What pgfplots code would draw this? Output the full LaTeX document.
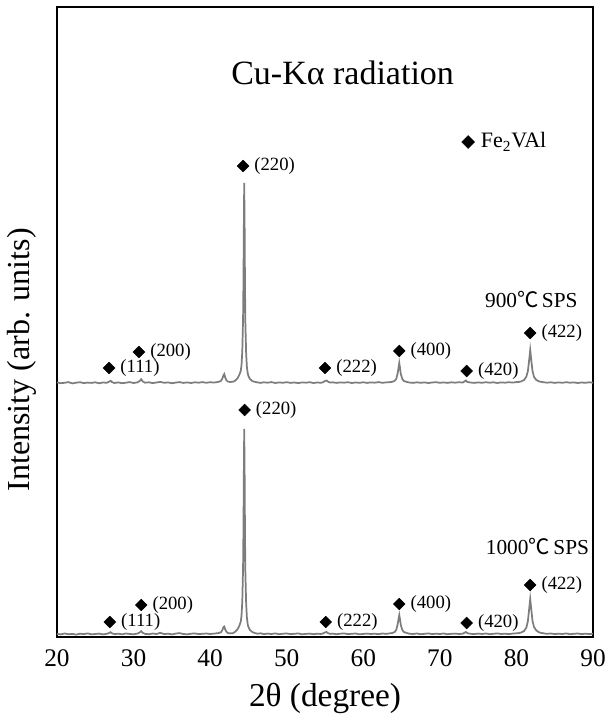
\documentclass[border=0pt]{standalone}
\usepackage{fontspec}
\setmainfont{Liberation Serif}
\newfontfamily\cjk{Noto Sans CJK SC}
\usepackage{pgfplots}
\usepackage{pgfplotstable}
\pgfplotsset{compat=1.18}
\pgfplotstableread{
x up lo
20.0 254.5 3.2
20.5 253.8 2.6
21.0 254.2 3.5
21.5 254.9 2.8
22.0 253.6 3.1
22.5 254.3 2.4
23.0 254.8 3.3
23.5 253.9 2.9
24.0 254.4 3.6
24.5 254.1 2.7
25.0 254.7 3.0
25.5 253.7 3.4
26.0 254.5 2.6
26.5 254.2 3.2
26.8 255.3 4.0
27.0 256.2 4.8
27.2 254.8 3.6
27.5 254.0 2.9
28.0 254.6 3.3
28.5 253.8 2.7
29.0 254.3 3.5
29.5 254.9 3.0
30.0 254.0 2.8
30.5 254.6 3.4
30.8 256.0 4.5
31.0 257.8 5.8
31.2 255.5 4.2
31.5 254.3 3.1
32.0 254.7 2.8
32.5 253.9 3.5
33.0 254.5 3.0
33.5 255.1 4.2
34.0 254.2 2.9
34.5 254.6 3.3
35.0 253.8 2.6
35.5 254.4 3.4
36.0 254.9 3.9
36.5 254.1 3.0
37.0 254.6 2.7
37.5 254.0 3.3
38.0 254.7 3.6
38.5 254.3 2.9
39.0 254.9 3.2
39.5 254.2 3.5
40.0 254.8 3.0
40.5 254.4 3.4
41.0 255.0 3.8
41.4 256.0 4.6
41.6 258.5 7.0
41.75 262.0 10.0
41.85 263.0 10.5
41.95 260.0 8.0
42.1 257.0 5.5
42.3 255.5 4.0
42.6 255.0 3.6
43.0 255.3 3.9
43.3 256.5 5.4
43.6 259.0 8.0
43.8 262.0 11.0
44.0 266.0 15.3
44.1 272.0 21.5
44.2 286.0 36.0
44.3 318.0 69.0
44.35 354.0 106.0
44.4 410.0 163.0
44.45 454.0 208.0
44.5 414.0 167.0
44.55 354.0 106.0
44.6 314.0 65.0
44.7 284.0 34.0
44.8 270.0 19.5
44.9 264.0 13.0
45.0 261.0 10.0
45.2 258.0 7.0
45.5 256.0 5.0
45.8 255.2 4.0
46.2 254.6 3.3
46.6 254.1 3.7
47.0 254.7 2.9
47.5 254.3 3.4
48.0 254.9 3.0
48.5 254.0 3.6
49.0 254.6 2.8
49.5 254.2 3.3
50.0 254.8 3.5
50.5 254.1 2.9
51.0 254.5 3.2
51.5 253.9 3.6
52.0 254.6 2.7
52.5 254.3 3.1
53.0 254.8 3.4
53.5 254.0 2.8
54.0 254.5 3.3
54.5 254.2 3.0
54.8 255.0 3.8
55.0 256.0 4.6
55.2 256.5 5.0
55.4 255.2 3.8
55.7 254.4 3.1
56.0 254.7 3.4
56.5 254.1 2.8
57.0 254.6 3.3
57.5 254.3 3.6
58.0 254.8 2.9
58.5 254.0 3.2
59.0 254.5 3.5
59.5 254.2 2.7
60.0 254.7 3.1
60.5 254.1 3.4
61.0 254.6 3.0
61.5 254.3 3.3
62.0 254.9 2.8
62.5 254.2 3.5
63.0 254.6 3.1
63.4 254.8 3.6
63.8 255.2 4.0
64.1 256.2 5.0
64.3 258.0 7.0
64.5 264.0 13.0
64.6 269.0 18.0
64.7 274.0 22.0
64.8 269.0 17.5
64.9 263.0 12.0
65.1 258.0 7.0
65.3 256.0 5.0
65.7 255.0 4.0
66.0 254.5 3.3
66.5 254.1 3.0
67.0 254.7 3.5
67.5 254.2 2.8
68.0 254.6 3.2
68.5 254.0 3.6
69.0 254.5 2.9
69.5 254.8 3.3
70.0 254.2 3.0
70.5 254.6 3.5
71.0 254.1 2.8
71.5 254.7 3.2
72.0 254.3 3.4
72.5 254.8 3.0
73.0 254.4 3.3
73.2 255.5 4.2
73.4 256.5 5.0
73.6 255.0 3.8
74.0 254.5 3.2
74.5 254.1 2.9
75.0 254.6 3.4
75.5 254.2 3.0
76.0 254.8 3.5
76.5 254.3 2.8
77.0 254.7 3.2
77.5 254.0 3.6
78.0 254.6 3.0
78.5 254.3 3.3
79.0 254.8 2.9
79.5 254.4 3.4
80.0 254.9 3.7
80.3 255.0 3.9
80.6 255.5 4.4
81.0 257.0 6.0
81.3 260.5 9.5
81.5 266.0 16.0
81.65 276.0 27.0
81.8 287.0 38.0
81.95 276.0 27.0
82.1 266.0 16.0
82.3 260.0 10.0
82.6 257.0 6.5
83.0 255.5 4.5
83.5 254.8 3.7
84.0 254.3 3.2
84.5 254.7 3.5
85.0 254.1 2.9
85.5 254.6 3.3
86.0 254.2 3.0
86.5 254.8 3.6
87.0 254.3 2.8
87.5 254.6 3.2
88.0 254.0 3.5
88.5 254.5 2.9
89.0 254.2 3.3
89.5 254.7 3.0
90.0 254.3 3.2
}\spectrum
\definecolor{trace}{RGB}{125,125,125}
\begin{document}
\begin{tikzpicture}
\useasboundingbox (-42.75pt,-60pt) rectangle (413.25pt,477.75pt);
\begin{axis}[
  at={(0pt,0pt)}, anchor=south west,
  scale only axis, width=402pt, height=472.5pt,
  xmin=20, xmax=90, ymin=0, ymax=630,
  xtick={20,30,...,90}, ytick=\empty,
  major tick length=0pt,
  /pgf/number format/assume math mode=true,
  xticklabel style={font=\fontsize{19}{21}\selectfont, yshift=-6pt},
  xlabel={2θ (degree)},
  ylabel={Intensity (arb. units)},
  xlabel style={font=\fontsize{25}{28}\selectfont, at={(axis description cs:0.5,-0.098)}, anchor=center},
  ylabel style={font=\fontsize{24}{28}\selectfont, at={(axis description cs:-0.065,0.44)}, anchor=center},
  axis line style={line width=0.8pt},
  clip=false,
]
\addplot[trace, line width=1.3pt] table[x=x,y=up] {\spectrum};
\addplot[trace, line width=1.3pt] table[x=x,y=lo] {\spectrum};
\addplot[only marks, mark=square*, mark size=3.1pt, mark options={rotate=45, fill=black, draw=black},
  nodes near coords, point meta=explicit symbolic,
  every node near coord/.append style={anchor=west, xshift=5pt, font=\fontsize{14}{16}\selectfont, text=black}]
  coordinates {
  (26.8,269) [(111)]
  (30.7,285) [(200)]
  (44.3,471) [(220)]
  (55.0,269) [(222)]
  (64.7,286) [(400)]
  (73.5,266) [(420)]
  (81.8,304) [(422)]
  (26.9,15) [(111)]
  (31.0,32) [(200)]
  (44.5,227) [(220)]
  (55.1,15) [(222)]
  (64.7,33) [(400)]
  (73.5,14) [(420)]
  (81.8,52) [(422)]
  };
\addplot[only marks, mark=square*, mark size=3.4pt, mark options={rotate=45, fill=black, draw=black},
  nodes near coords, point meta=explicit symbolic,
  every node near coord/.append style={anchor=west, xshift=6pt, font=\fontsize{16.5}{19}\selectfont, text=black}]
  coordinates {(73.7,495) [Fe\textsubscript{2}VAl]};
\node[font=\fontsize{25.5}{28}\selectfont] at (axis cs:57.3,564) {Cu-Kα radiation};
\node[anchor=east, font=\fontsize{16}{18}\selectfont] at (axis cs:88.6,337) {900{\cjk ℃}\,SPS};
\node[anchor=east, font=\fontsize{16}{18}\selectfont] at (axis cs:90.1,90) {1000{\cjk ℃}\,SPS};
\end{axis}
\end{tikzpicture}
\end{document}
